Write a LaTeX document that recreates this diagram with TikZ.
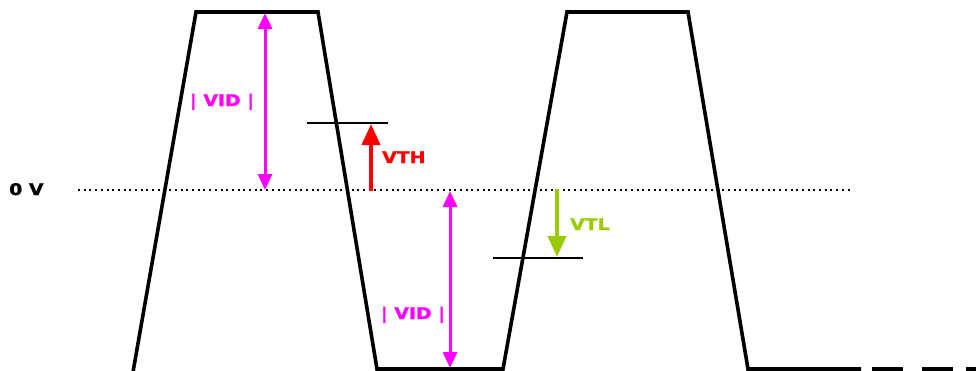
\documentclass[tikz,border=0pt]{standalone}
\usepackage{fontspec}
\setmainfont{DejaVu Sans}
\newfontfamily\lblfont[FakeStretch=1.18,FakeBold=1.2]{DejaVu Sans Bold}
\usetikzlibrary{arrows.meta}
\definecolor{vidc}{HTML}{FF00FF}
\definecolor{vthc}{HTML}{FF0000}
\definecolor{vtlc}{HTML}{99CC00}
\tikzset{
  wave/.style={line width=3.6pt, line join=miter},
  thr/.style={line width=2.2pt},
  zero/.style={line width=2pt, dash pattern=on 2pt off 3.7pt},
  vidarrow/.style={draw=vidc, line width=3pt, {Triangle[length=16pt,width=14pt]}-{Triangle[length=16pt,width=14pt]}},
  tharrow/.style={line width=4pt, -{Triangle[length=21pt,width=18pt]}},
  lbl/.style={font=\lblfont\fontsize{16}{16}\selectfont, inner sep=0pt},
}
\begin{document}
\begin{tikzpicture}[x=1pt,y=-1pt]
\useasboundingbox (0,0) rectangle (976,370);
% waveform vertices
\coordinate (w0) at (133,372);
\coordinate (w1) at (196,12);
\coordinate (w2) at (318,12);
\coordinate (w3) at (377,369);
\coordinate (w4) at (503,369);
\coordinate (w5) at (567,12);
\coordinate (w6) at (688,12);
\coordinate (w7) at (748,369);
\coordinate (w8) at (861,369);
\coordinate (d1a) at (872,369);
\coordinate (d1b) at (903,369);
\coordinate (d2a) at (922,369);
\coordinate (d2b) at (953,369);
\coordinate (d3a) at (966,369);
\coordinate (d3b) at (980,369);
\draw[wave] (w0) -- (w1) -- (w2) -- (w3) -- (w4) -- (w5) -- (w6) -- (w7) -- (w8);
\draw[wave] (d1a) -- (d1b);
\draw[wave] (d2a) -- (d2b);
\draw[wave] (d3a) -- (d3b);
% zero line
\node[lbl, anchor=base west] (zl) at (9,195) {0 V};
\coordinate (z0) at (78,190);
\coordinate (z1) at (852,190);
\draw[zero] (z0) -- (z1);
% VTH threshold
\coordinate (th0) at (307,123);
\coordinate (th1) at (388,123);
\draw[thr] (th0) -- (th1);
\coordinate (thb) at (371,191);
\coordinate (tht) at (371,124);
\draw[tharrow, draw=vthc, fill=vthc] (thb) -- (tht);
\node[lbl, text=vthc, anchor=base west] (vth) at (382,163) {VTH};
% VTL threshold
\coordinate (tl0) at (493,258);
\coordinate (tl1) at (583,258);
\draw[thr] (tl0) -- (tl1);
\coordinate (tlt) at (557,189);
\coordinate (tlb) at (557,257);
\draw[tharrow, draw=vtlc, fill=vtlc] (tlt) -- (tlb);
\node[lbl, text=vtlc, anchor=base west] (vtl) at (570,230) {VTL};
% VID arrows
\coordinate (v1t) at (265,13);
\coordinate (v1b) at (265,190);
\draw[vidarrow, fill=vidc] (v1t) -- (v1b);
\node[lbl, text=vidc, anchor=base] (vid1) at (222,106) {| VID |};
\coordinate (v2t) at (450,191);
\coordinate (v2b) at (450,368);
\draw[vidarrow, fill=vidc] (v2t) -- (v2b);
\node[lbl, text=vidc, anchor=base] (vid2) at (413,319) {| VID |};
\end{tikzpicture}
\end{document}
